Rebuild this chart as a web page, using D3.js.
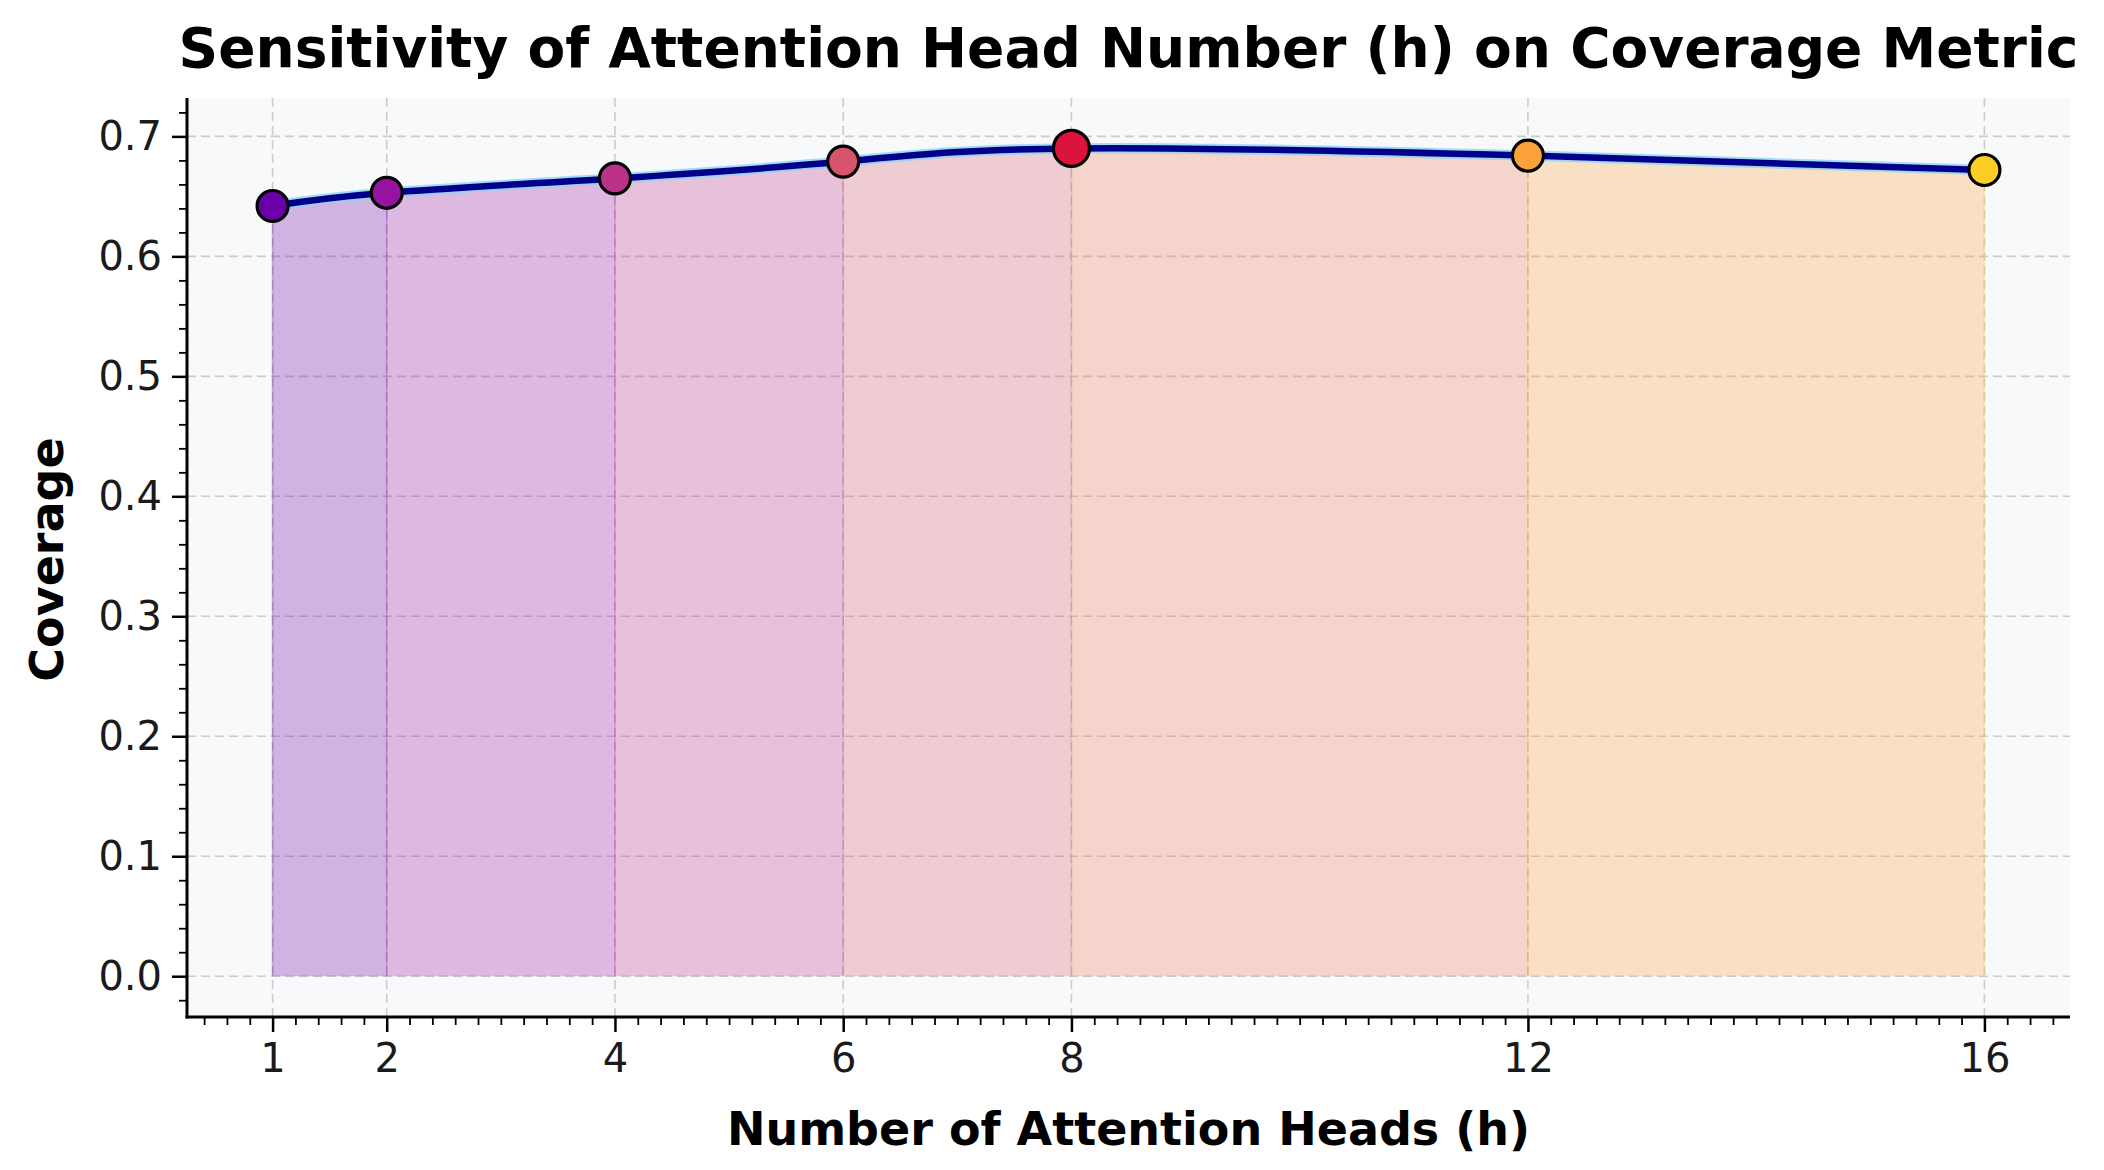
<!DOCTYPE html>
<meta charset="utf-8">
<style>
body { margin: 0; background: #fff; }
svg { display: block; font-family: "DejaVu Sans", sans-serif; }
.axis path { display: none; }
.axis line { stroke: #000; }
.axis text { font-size: 40px; fill: #1a1a1a; font-family: "DejaVu Sans", sans-serif; }
.major line { stroke-width: 2.5; }
.minor line { stroke-width: 1.8; }
.grid line { stroke: #cccccc; stroke-width: 1.6; stroke-dasharray: 9,5; }
.title { font-size: 55px; font-weight: bold; }
.label { font-size: 46px; font-weight: bold; }
</style>
<body>
<script src="https://d3js.org/d3.v7.min.js"></script>
<script>
// data
var heads = [1, 2, 4, 6, 8, 12, 16];
var coverage = [0.642, 0.653, 0.665, 0.679, 0.690, 0.684, 0.672];
var bestHead = 8;

// tick labels
var xTicks = [1, 2, 4, 6, 8, 12, 16];
var yTicks = [0.0, 0.1, 0.2, 0.3, 0.4, 0.5, 0.6, 0.7];

var margin = { top: 98, right: 34, bottom: 153, left: 187 },
    width = 2104 - margin.left - margin.right,
    height = 1170 - margin.top - margin.bottom;

var data = heads.map(function(h, i) { return { h: h, v: coverage[i] }; });

// plasma colours, evenly spaced from 0.2 to 0.9
var colors = heads.map(function(h, i) {
    return d3.interpolatePlasma(0.2 + i * 0.7 / (heads.length - 1));
});

var x = d3.scaleLinear().domain([0.25, 16.75]).range([0, width]);
var y = d3.scaleLinear().domain([-0.034, 0.732]).range([height, 0]);

var svg = d3.select("body").append("svg")
    .attr("width", 2104)
    .attr("height", 1170);

var g = svg.append("g")
    .attr("transform", "translate(" + margin.left + "," + margin.top + ")");

// plot background
g.append("rect")
    .attr("width", width)
    .attr("height", height)
    .attr("fill", "#f8f9fa");

// grid
g.append("g").attr("class", "grid")
    .selectAll("line").data(yTicks).enter().append("line")
    .attr("x1", 0).attr("x2", width)
    .attr("y1", function(d) { return y(d); })
    .attr("y2", function(d) { return y(d); });

g.append("g").attr("class", "grid")
    .selectAll("line").data(xTicks).enter().append("line")
    .attr("y1", 0).attr("y2", height)
    .attr("x1", function(d) { return x(d); })
    .attr("x2", function(d) { return x(d); });

// filled segments under the smooth curve, one colour per interval
var area = d3.area()
    .x(function(d) { return x(d.h); })
    .y0(y(0))
    .y1(function(d) { return y(d.v); })
    .curve(d3.curveNatural);

var defs = svg.append("defs");
for (var i = 0; i < heads.length - 1; i++) {
    defs.append("clipPath").attr("id", "seg" + i)
        .append("rect")
        .attr("x", x(heads[i]))
        .attr("y", 0)
        .attr("width", x(heads[i + 1]) - x(heads[i]))
        .attr("height", height);

    g.append("path")
        .datum(data)
        .attr("clip-path", "url(#seg" + i + ")")
        .attr("d", area)
        .attr("fill", colors[i])
        .attr("fill-opacity", 0.28);
}

// boundary lines of the segments
g.selectAll(".edge")
    .data(data)
    .enter().append("line")
    .attr("class", "edge")
    .attr("x1", function(d) { return x(d.h); })
    .attr("x2", function(d) { return x(d.h); })
    .attr("y1", y(0))
    .attr("y2", function(d) { return y(d.v); })
    .attr("stroke", function(d, i) { return colors[i]; })
    .attr("stroke-opacity", 0.3)
    .attr("stroke-width", 1.5);

// smooth line with light glow
var line = d3.line()
    .x(function(d) { return x(d.h); })
    .y(function(d) { return y(d.v); })
    .curve(d3.curveNatural);

g.append("path").datum(data)
    .attr("d", line)
    .attr("fill", "none")
    .attr("stroke", "#8fd4f2")
    .attr("stroke-width", 10.5)
    .attr("stroke-opacity", 0.8);

g.append("path").datum(data)
    .attr("d", line)
    .attr("fill", "none")
    .attr("stroke", "#00008b")
    .attr("stroke-width", 6.5);

// markers
g.selectAll(".dot")
    .data(data)
    .enter().append("circle")
    .attr("class", "dot")
    .attr("cx", function(d) { return x(d.h); })
    .attr("cy", function(d) { return y(d.v); })
    .attr("r", function(d) { return d.h === bestHead ? 18 : 15.5; })
    .attr("fill", function(d, i) { return d.h === bestHead ? "#dc143c" : colors[i]; })
    .attr("stroke", "#000")
    .attr("stroke-width", 3.2);

// axes: minor ticks
var xMinor = d3.range(0.4, 16.75, 0.2).filter(function(v) {
    return xTicks.every(function(t) { return Math.abs(t - v) > 1e-6; });
});
var yMinor = d3.range(-0.02, 0.73, 0.02).filter(function(v) {
    return yTicks.every(function(t) { return Math.abs(t - v) > 1e-6; });
});

g.append("g").attr("class", "axis minor")
    .attr("transform", "translate(0," + height + ")")
    .call(d3.axisBottom(x).tickValues(xMinor).tickSize(8).tickFormat(""));

g.append("g").attr("class", "axis minor")
    .call(d3.axisLeft(y).tickValues(yMinor).tickSize(8).tickFormat(""));

// axes: major ticks
g.append("g").attr("class", "axis major")
    .attr("transform", "translate(0," + height + ")")
    .call(d3.axisBottom(x).tickValues(xTicks).tickSize(15).tickPadding(12)
        .tickFormat(d3.format("d")));

g.append("g").attr("class", "axis major")
    .call(d3.axisLeft(y).tickValues(yTicks).tickSize(15).tickPadding(10)
        .tickFormat(d3.format(".1f")));

// spines
g.append("line")
    .attr("x1", 0).attr("x2", 0)
    .attr("y1", 0).attr("y2", height + 1.5)
    .attr("stroke", "#000").attr("stroke-width", 3);
g.append("line")
    .attr("x1", -1.5).attr("x2", width)
    .attr("y1", height).attr("y2", height)
    .attr("stroke", "#000").attr("stroke-width", 3);

// title and labels
svg.append("text")
    .attr("class", "title")
    .attr("x", margin.left + width / 2)
    .attr("y", 67)
    .attr("text-anchor", "middle")
    .text("Sensitivity of Attention Head Number (h) on Coverage Metric");

svg.append("text")
    .attr("class", "label")
    .attr("x", margin.left + width / 2)
    .attr("y", 1145)
    .attr("text-anchor", "middle")
    .text("Number of Attention Heads (h)");

svg.append("text")
    .attr("class", "label")
    .attr("transform", "translate(63," + (margin.top + height / 2 + 2) + ") rotate(-90)")
    .attr("text-anchor", "middle")
    .text("Coverage");
</script>
</body>
